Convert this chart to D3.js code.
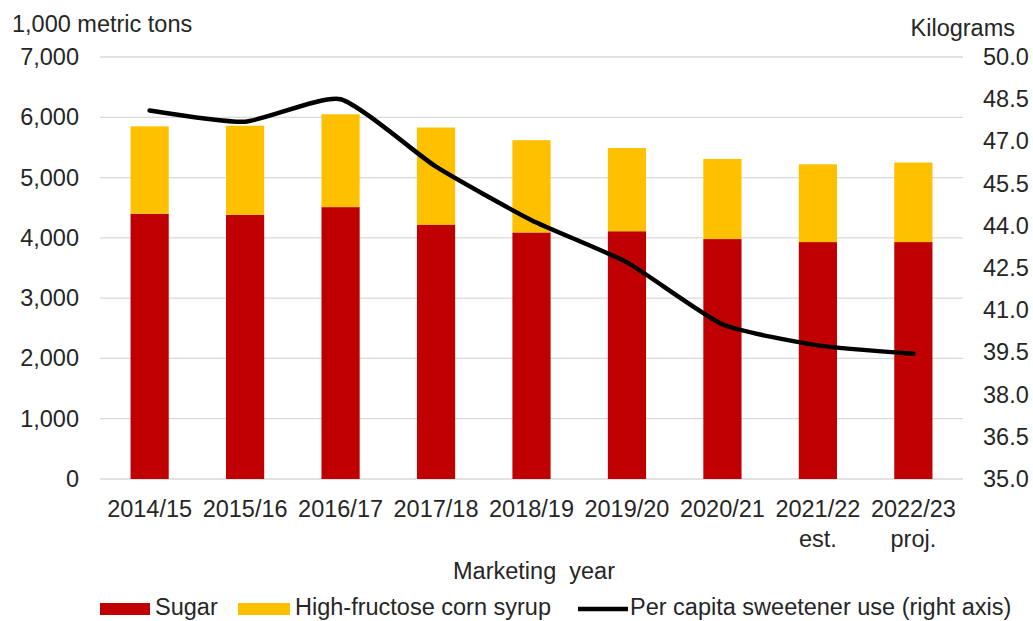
<!DOCTYPE html>
<html>
<head>
<meta charset="utf-8">
<script src="https://cdn.jsdelivr.net/npm/d3@7"></script>
<style>
  html, body { margin: 0; padding: 0; background: #fff; }
  svg text { font-family: "Liberation Sans", Arial, sans-serif; fill: #262626; }
</style>
</head>
<body>
<svg id="chart" width="1033" height="621"></svg>
<script>
// Marketing years (second line marks estimates / projections)
const years = ["2014/15", "2015/16", "2016/17", "2017/18", "2018/19", "2019/20", "2020/21", "2021/22", "2022/23"];
const yearNotes = ["", "", "", "", "", "", "", "est.", "proj."];

// Deliveries, 1,000 metric tons
const sugar = [4400, 4380, 4510, 4220, 4090, 4110, 3980, 3930, 3930];
const hfcs = [1450, 1480, 1540, 1610, 1530, 1380, 1330, 1290, 1320];

// Per capita sweetener use, kilograms
const perCapita = [48.1, 47.7, 48.5, 46.1, 44.2, 42.7, 40.5, 39.75, 39.45];

const leftTicks = [0, 1000, 2000, 3000, 4000, 5000, 6000, 7000];
const rightTicks = [35.0, 36.5, 38.0, 39.5, 41.0, 42.5, 44.0, 45.5, 47.0, 48.5, 50.0];

const colors = { sugar: "#c00000", hfcs: "#ffc000", line: "#000000", grid: "#d9d9d9" };
const fontSize = 23.5;
const fontFamily = '"Liberation Sans", Arial, sans-serif';

const svg = d3.select("#chart");
const plot = { left: 100, right: 963, top: 57, bottom: 479 };

const x = d3.scaleBand().domain(years).range([plot.left, plot.right])
  .paddingInner(0.6).paddingOuter(0.32);
const yL = d3.scaleLinear().domain([0, 7000]).range([plot.bottom, plot.top]);
const yR = d3.scaleLinear().domain([35, 50]).range([plot.bottom, plot.top]);

// Horizontal gridlines
svg.append("g").selectAll("line").data(leftTicks).join("line")
  .attr("x1", plot.left).attr("x2", plot.right)
  .attr("y1", d => yL(d)).attr("y2", d => yL(d))
  .attr("stroke", colors.grid).attr("stroke-width", 1.3);

// Left axis
const leftAxis = svg.append("g").attr("transform", `translate(${plot.left},0)`)
  .call(d3.axisLeft(yL).tickValues(leftTicks).tickFormat(d3.format(",")).tickSize(0).tickPadding(21));
leftAxis.select(".domain").remove();
leftAxis.selectAll("text").style("font-size", fontSize + "px")
  .style("font-family", fontFamily).attr("fill", "#262626");

// Right axis
const rightAxis = svg.append("g").attr("transform", `translate(${plot.right},0)`)
  .call(d3.axisRight(yR).tickValues(rightTicks).tickFormat(d3.format(".1f")).tickSize(0).tickPadding(20));
rightAxis.select(".domain").remove();
rightAxis.selectAll("text").style("font-size", fontSize + "px")
  .style("font-family", fontFamily).attr("fill", "#262626");

// Stacked bars
const rows = years.map((yr, i) => ({ year: yr, sugar: sugar[i], hfcs: hfcs[i] }));
const stack = d3.stack().keys(["sugar", "hfcs"])(rows);
svg.append("g").selectAll("g").data(stack).join("g")
  .attr("fill", d => colors[d.key])
  .selectAll("rect").data(d => d).join("rect")
  .attr("x", d => x(d.data.year))
  .attr("width", x.bandwidth())
  .attr("y", d => yL(d[1]))
  .attr("height", d => yL(d[0]) - yL(d[1]));

// Per capita line (right axis)
const line = d3.line()
  .x((d, i) => x(years[i]) + x.bandwidth() / 2)
  .y(d => yR(d))
  .curve(d3.curveCardinal.tension(0.45));
svg.append("path").datum(perCapita)
  .attr("fill", "none").attr("stroke", colors.line)
  .attr("stroke-width", 4.5).attr("stroke-linejoin", "round").attr("stroke-linecap", "round")
  .attr("d", line);

// Category labels
const xl = svg.append("g");
years.forEach((yr, i) => {
  const cx = x(yr) + x.bandwidth() / 2;
  xl.append("text").attr("x", cx).attr("y", 517)
    .attr("text-anchor", "middle").style("font-size", fontSize + "px").text(yr);
  if (yearNotes[i]) {
    xl.append("text").attr("x", cx).attr("y", 547)
      .attr("text-anchor", "middle").style("font-size", fontSize + "px").text(yearNotes[i]);
  }
});

// Axis titles
svg.append("text").attr("x", 534).attr("y", 579).attr("text-anchor", "middle")
  .style("font-size", fontSize + "px").attr("xml:space", "preserve")
  .text("Marketing  year");
svg.append("text").attr("x", 12).attr("y", 32)
  .style("font-size", fontSize + "px").text("1,000 metric tons");
svg.append("text").attr("x", 1015).attr("y", 36).attr("text-anchor", "end")
  .style("font-size", fontSize + "px").text("Kilograms");

// Legend
const lg = svg.append("g");
lg.append("rect").attr("x", 100).attr("y", 603).attr("width", 50).attr("height", 12).attr("fill", colors.sugar);
lg.append("text").attr("x", 155).attr("y", 615).style("font-size", fontSize + "px").text("Sugar");
lg.append("rect").attr("x", 238).attr("y", 603).attr("width", 52).attr("height", 12).attr("fill", colors.hfcs);
lg.append("text").attr("x", 295).attr("y", 615).style("font-size", fontSize + "px").text("High-fructose corn syrup");
lg.append("line").attr("x1", 578).attr("x2", 628).attr("y1", 609).attr("y2", 609)
  .attr("stroke", colors.line).attr("stroke-width", 4.5);
lg.append("text").attr("x", 630).attr("y", 615).style("font-size", fontSize + "px").text("Per capita sweetener use (right axis)");
</script>
</body>
</html>
